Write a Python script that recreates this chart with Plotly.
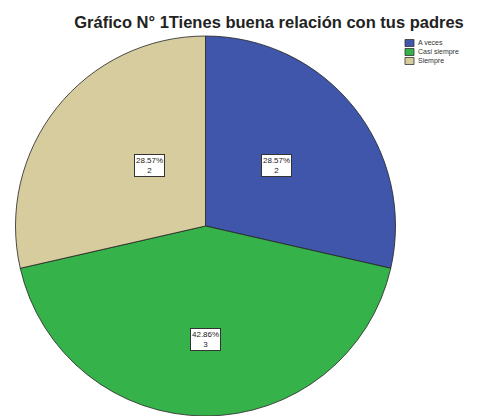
import math
import plotly.graph_objects as go

categories = ["A veces", "Casi siempre", "Siempre"]
counts = [2, 3, 2]
colors = ["#3F56AA", "#36B24A", "#D6CC9E"]
label_radius = [0.48, 0.68, 0.48]

W, H = 486, 416
cx, cy, R = 205.5, 226, 190

fig = go.Figure(go.Pie(
    labels=categories, values=counts, sort=False, direction="clockwise", rotation=0,
    marker=dict(colors=colors, line=dict(color="#222222", width=0.8)),
    textinfo="none", hoverinfo="label+value+percent", showlegend=False,
    domain=dict(x=[(cx - R) / W, (cx + R) / W], y=[1 - (cy + R) / H, 1 - (cy - R) / H]),
))

total = sum(counts)
annotations = []
shapes = []
cum = 0
for i, v in enumerate(counts):
    mid = (cum + v / 2) / total * 2 * math.pi
    cum += v
    r = label_radius[i] * R
    px = cx + r * math.sin(mid)
    py = cy - r * math.cos(mid) - 4
    annotations.append(dict(
        x=px / W, y=1 - py / H, xref="paper", yref="paper",
        text=f"{v / total * 100:.2f}%<br>{v}", showarrow=False,
        font=dict(family="Arial, Liberation Sans", size=8, color="#222222"),
        bgcolor="white", bordercolor="#333333", borderwidth=1, borderpad=1,
    ))

# legend (compact, SPSS-like)
lx, ly0, dy = 405, 43, 9
for i, (c, name) in enumerate(zip(colors, categories)):
    yc = ly0 + i * dy
    shapes.append(dict(
        type="rect", xref="paper", yref="paper",
        x0=lx / W, x1=(lx + 9) / W, y0=1 - (yc + 3.5) / H, y1=1 - (yc - 3.5) / H,
        fillcolor=c, line=dict(color="#333333", width=0.8),
    ))
    annotations.append(dict(
        x=(lx + 11) / W, y=1 - yc / H, xref="paper", yref="paper",
        xanchor="left", yanchor="middle", text=name, showarrow=False,
        font=dict(family="Arial, Liberation Sans", size=7, color="#333333"),
    ))

fig.update_layout(
    width=W, height=H, margin=dict(l=0, r=0, t=0, b=0),
    paper_bgcolor="white", plot_bgcolor="white",
    title=dict(text="<b>Gráfico N° 1Tienes buena relación con tus padres</b>",
               x=269 / W, xanchor="center", y=1 - 22 / H, yanchor="middle",
               font=dict(family="Arial, Liberation Sans", size=16.5, color="#222222")),
    annotations=annotations, shapes=shapes,
)

fig.write_html("out.html", config={"displayModeBar": False},
               post_script="document.body.style.margin='0';")
